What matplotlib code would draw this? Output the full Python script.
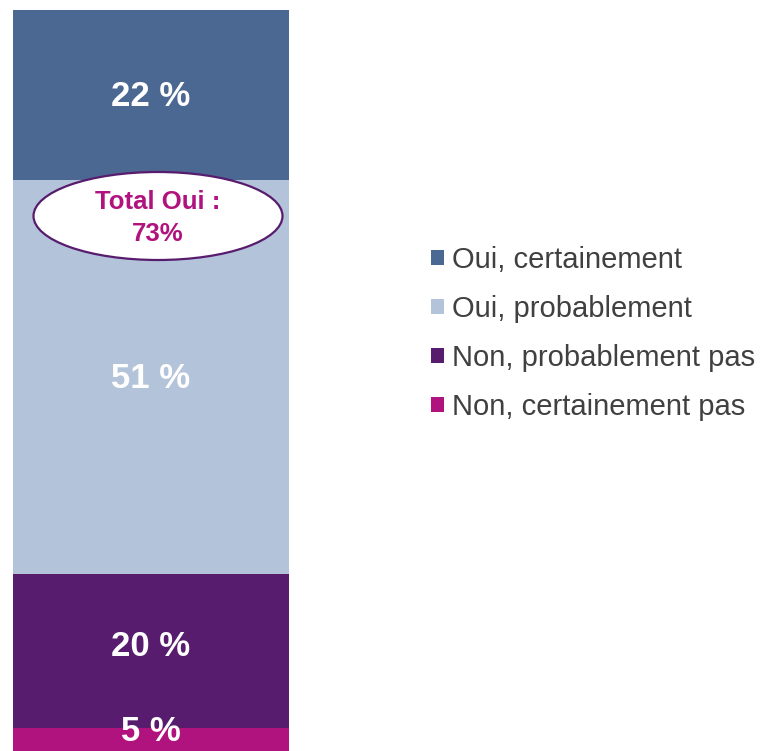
import matplotlib.pyplot as plt
from matplotlib.patches import Ellipse

# data, bottom to top
categories = ['Non, certainement pas', 'Non, probablement pas', 'Oui, probablement', 'Oui, certainement']
values = [5, 20, 51, 22]
labels = ['5 %', '20 %', '51 %', '22 %']
colors = ['#b0127e', '#581c6e', '#b3c3d9', '#4b6893']
total_oui = 73

plt.rcParams['font.family'] = ['Liberation Sans', 'DejaVu Sans']

fig = plt.figure(figsize=(7.61, 7.51), dpi=100)
ax = fig.add_axes([13 / 761, 0, 276 / 761, 1 - 8 / 751])

px_per_unit = 7.72
top = sum(values)
ax.set_ylim(values[0] - 23 / px_per_unit, top + 2 / px_per_unit)
ax.set_xlim(-0.5, 0.5)

handles = []
bottom = 0
for cat, val, lab, col in zip(categories, values, labels, colors):
    b = ax.bar(0, val, width=1.0, bottom=bottom, color=col, label=cat)
    handles.append(b)
    if val < 10:
        ty = bottom + val - 0.4
    elif val == 20:
        ty = bottom + val / 2 + 0.5
    else:
        ty = bottom + val / 2 - 0.25
    ax.text(0, ty, lab, ha='center', va='center', color='white',
            fontsize=25, fontweight='bold')
    bottom += val

ax.axis('off')

# ellipse with total
ell = Ellipse((158 / 761, 1 - 216 / 751), 249 / 761, 88 / 751,
              transform=fig.transFigure, facecolor='white',
              edgecolor='#581c6e', linewidth=1.6, zorder=5)
fig.patches.append(ell)
fig.text(158 / 761, 1 - 218 / 751, f'Total Oui :\n{total_oui}%', ha='center', va='center',
         color='#b0127e', fontsize=18.5, fontweight='bold', linespacing=1.45, zorder=6)

fig.legend(handles[::-1], categories[::-1], loc='upper left',
           bbox_to_anchor=(431 / 761, 1 - 246 / 751), frameon=False,
           fontsize=21, handlelength=0.43, handleheight=0.43, handletextpad=0.3,
           labelspacing=0.72, borderpad=0, borderaxespad=0, labelcolor='#404040')

fig.savefig('out.png', dpi=100)
